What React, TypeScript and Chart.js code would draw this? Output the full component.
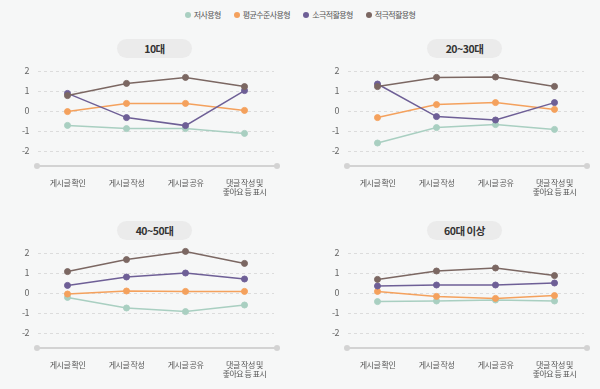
import React, { useEffect, useRef } from "react";
import { Chart, registerables } from "chart.js";

Chart.register(...registerables);

const categories: (string | string[])[] = ["게시글 확인", "게시글 작성", "게시글 공유", ["댓글 작성 및", "좋아요 등 표시"]];
const panelTitles = ["10대", "20~30대", "40~50대", "60대 이상"];
const seriesNames = ["저사용형", "평균수준사용형", "소극적활용형", "적극적활용형"];
const seriesColors = ["#a9cfc1", "#f4a15d", "#6e5f96", "#7b6762"];
const yTicks = [-2, -1, 0, 1, 2];

// values per panel (10대, 20~30대, 40~50대, 60대 이상)
const lowUse = [
  [-0.72, -0.88, -0.88, -1.12],
  [-1.6, -0.83, -0.68, -0.92],
  [-0.22, -0.75, -0.93, -0.6],
  [-0.43, -0.4, -0.35, -0.4],
];
const averageUse = [
  [-0.03, 0.38, 0.38, 0.03],
  [-0.33, 0.32, 0.42, 0.08],
  [-0.05, 0.1, 0.08, 0.08],
  [0.08, -0.17, -0.27, -0.13],
];
const passiveUse = [
  [0.88, -0.33, -0.73, 1.02],
  [1.35, -0.28, -0.45, 0.42],
  [0.38, 0.8, 1.0, 0.7],
  [0.35, 0.4, 0.4, 0.5],
];
const activeUse = [
  [0.77, 1.38, 1.68, 1.22],
  [1.22, 1.68, 1.7, 1.23],
  [1.07, 1.67, 2.08, 1.48],
  [0.68, 1.1, 1.25, 0.87],
];

const FONT = "'Noto Sans CJK KR', 'Noto Sans', sans-serif";

const axisLinePlugin = {
  id: "axisLine",
  beforeInit(chart: any) {
    chart.ctx.letterSpacing = "-0.5px";
  },
  beforeDraw(chart: any) {
    chart.ctx.letterSpacing = "-0.5px";
  },
  afterDraw(chart: any) {
    const { ctx, chartArea } = chart;
    const y = chartArea.bottom;
    const x1 = chartArea.left - 1;
    const x2 = chartArea.right + 3;
    ctx.save();
    ctx.strokeStyle = "#d3d3d3";
    ctx.fillStyle = "#d3d3d3";
    ctx.lineWidth = 2;
    ctx.beginPath();
    ctx.moveTo(x1, y);
    ctx.lineTo(x2, y);
    ctx.stroke();
    ctx.beginPath();
    ctx.arc(x1, y, 3, 0, Math.PI * 2);
    ctx.fill();
    ctx.beginPath();
    ctx.arc(x2, y, 3, 0, Math.PI * 2);
    ctx.fill();
    ctx.restore();
  },
};

function Panel({ index, left, top }: { index: number; left: number; top: number }) {
  const ref = useRef<HTMLCanvasElement | null>(null);
  useEffect(() => {
    if (!ref.current) return;
    const sets = [lowUse, averageUse, passiveUse, activeUse];
    const orders = [3, 2, 1, 0];
    const chart = new Chart(ref.current, {
      type: "line",
      data: {
        labels: categories as any,
        datasets: sets.map((s, i) => ({
          label: seriesNames[i],
          data: s[index],
          borderColor: seriesColors[i],
          backgroundColor: seriesColors[i],
          pointBackgroundColor: seriesColors[i],
          pointBorderColor: seriesColors[i],
          pointRadius: 3,
          pointBorderWidth: 1,
          borderWidth: 1.5,
          tension: 0,
          order: orders[i],
        })),
      },
      options: {
        animation: false,
        responsive: false,
        maintainAspectRatio: false,
        layout: { padding: { top: 6, right: 16, left: 0, bottom: 0 } },
        plugins: { legend: { display: false }, tooltip: { enabled: false } },
        scales: {
          x: {
            offset: true,
            grid: { display: false, drawTicks: false },
            border: { display: false },
            ticks: { color: "#555", font: { size: 8, family: FONT }, padding: 12, maxRotation: 0, autoSkip: false },
            afterFit(scale: any) {
              scale.height = 34;
              scale.paddingLeft = 0;
              scale.paddingRight = 0;
            },
          },
          y: {
            min: -2.75,
            max: 2.5,
            afterBuildTicks(scale: any) {
              scale.ticks = yTicks.map((v) => ({ value: v }));
            },
            afterFit(scale: any) {
              scale.width = 38;
              scale.paddingTop = 0;
              scale.paddingBottom = 0;
            },
            grid: { color: "#dcdcdc", drawTicks: false, lineWidth: 1 },
            border: { display: false, dash: [3, 3] },
            ticks: { color: "#666", font: { size: 9, family: FONT }, padding: 9 },
          },
        },
      },
      plugins: [axisLinePlugin],
    });
    return () => chart.destroy();
  }, [index]);
  return (
    <>
      <div
        style={{
          position: "absolute",
          left: left + 117,
          top: top - 16,
          width: 75,
          height: 19,
          borderRadius: 10,
          background: "#ebebeb",
          color: "#333",
          fontFamily: FONT,
          fontWeight: 700,
          fontSize: 10.5,
          letterSpacing: "-0.5px",
          lineHeight: "19px",
          textAlign: "center",
        }}
      >
        {panelTitles[index]}
      </div>
      <canvas ref={ref} width={290} height={145} style={{ position: "absolute", left, top, width: 290, height: 145 }} />
    </>
  );
}

export default function App() {
  const panels = [
    { left: 0, top: 55 },
    { left: 310, top: 55 },
    { left: 0, top: 237 },
    { left: 310, top: 237 },
  ];
  return (
    <div
      style={{
        position: "absolute",
        left: 0,
        top: 0,
        width: 600,
        height: 389,
        background: "#f6f7f7",
        overflow: "hidden",
      }}
    >
      <div
        style={{
          position: "absolute",
          left: 0,
          top: 9,
          width: 600,
          display: "flex",
          justifyContent: "center",
          gap: 13,
          fontFamily: FONT,
          fontSize: 8,
          letterSpacing: "-0.6px",
          color: "#555",
          lineHeight: "12px",
        }}
      >
        {seriesNames.map((n, i) => (
          <div key={n} style={{ display: "flex", alignItems: "center", gap: 3 }}>
            <span style={{ width: 6, height: 6, borderRadius: 3, background: seriesColors[i], display: "inline-block" }} />
            <span>{n}</span>
          </div>
        ))}
      </div>
      {panels.map((p, i) => (
        <Panel key={i} index={i} left={p.left} top={p.top} />
      ))}
    </div>
  );
}
